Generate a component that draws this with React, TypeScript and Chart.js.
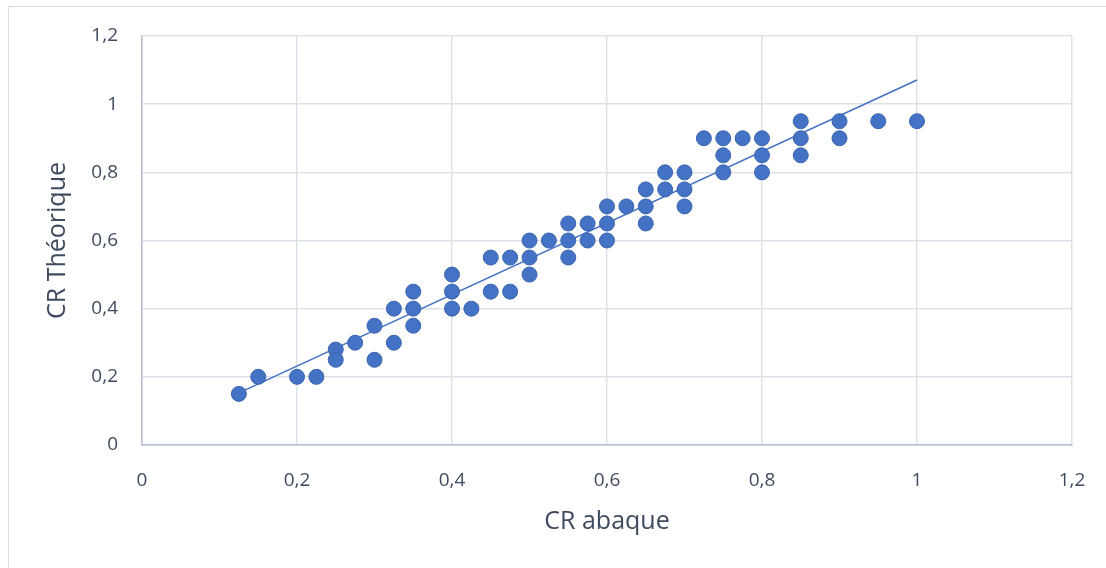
import React, { useEffect, useRef } from "react";
import { Chart, registerables } from "chart.js";

Chart.register(...registerables);

const xTitle = "CR abaque";
const yTitle = "CR Théorique";

const abaque = [
  0.125, 0.15, 0.2, 0.225, 0.25, 0.25, 0.275, 0.3, 0.3, 0.325, 0.325,
  0.35, 0.35, 0.35, 0.4, 0.4, 0.4, 0.425, 0.45, 0.45, 0.475, 0.475,
  0.5, 0.5, 0.5, 0.525, 0.55, 0.55, 0.55, 0.575, 0.575, 0.6, 0.6, 0.6,
  0.625, 0.65, 0.65, 0.65, 0.675, 0.675, 0.7, 0.7, 0.7, 0.725, 0.75,
  0.75, 0.75, 0.775, 0.8, 0.8, 0.8, 0.85, 0.85, 0.85, 0.9, 0.9, 0.95, 1.0,
];
const theorique = [
  0.15, 0.2, 0.2, 0.2, 0.28, 0.25, 0.3, 0.35, 0.25, 0.4, 0.3,
  0.45, 0.4, 0.35, 0.5, 0.45, 0.4, 0.4, 0.55, 0.45, 0.55, 0.45,
  0.6, 0.55, 0.5, 0.6, 0.65, 0.6, 0.55, 0.65, 0.6, 0.7, 0.65, 0.6,
  0.7, 0.75, 0.7, 0.65, 0.8, 0.75, 0.8, 0.75, 0.7, 0.9, 0.9,
  0.85, 0.8, 0.9, 0.9, 0.85, 0.8, 0.95, 0.9, 0.85, 0.95, 0.9, 0.95, 0.95,
];
const trendX = [0.125, 1.0];
const trendY = [0.153, 1.071];

const axisMin = 0;
const axisMax = 1.2;
const axisStep = 0.2;

const BLUE = "#4472C4";
const TEXT = "#3E4B5E";
const GRID = "#DDE2E9";
const AXIS = "#B4BFCF";
const FONT = "'Open Sans', sans-serif";

const fmt = (v: number | string) => {
  const n = Math.round(Number(v) * 10) / 10;
  return String(n).replace(".", ",");
};

export default function App() {
  const ref = useRef<HTMLCanvasElement | null>(null);

  useEffect(() => {
    if (!ref.current) return;
    const chart = new Chart(ref.current, {
      type: "scatter",
      data: {
        datasets: [
          {
            type: "scatter",
            label: "points",
            data: abaque.map((x, i) => ({ x, y: theorique[i] })),
            backgroundColor: BLUE,
            borderColor: "#3A64B0",
            borderWidth: 1,
            pointRadius: 7.5,
            order: 1,
          },
          {
            type: "line",
            label: "trend",
            data: trendX.map((x, i) => ({ x, y: trendY[i] })),
            borderColor: BLUE,
            borderWidth: 1.5,
            pointRadius: 0,
            fill: false,
            order: 2,
          } as any,
        ],
      },
      options: {
        animation: false,
        responsive: false,
        maintainAspectRatio: false,
        layout: { padding: { top: 36, right: 34, left: 0, bottom: 0 } },
        plugins: {
          legend: { display: false },
          tooltip: { enabled: false },
        },
        scales: {
          x: {
            type: "linear",
            min: axisMin,
            max: axisMax,
            afterFit: (s: any) => {
              s.height = 123;
              s.paddingLeft = 0;
              s.paddingRight = 0;
            },
            ticks: {
              stepSize: axisStep,
              callback: (v: any) => fmt(v),
              color: TEXT,
              font: { family: FONT, size: 19 },
              padding: 24,
              maxRotation: 0,
            },
            grid: { color: GRID, lineWidth: 1.5, drawTicks: false },
            border: { color: AXIS, width: 1.5 },
            title: {
              display: true,
              text: xTitle,
              color: TEXT,
              font: { family: FONT, size: 25 },
              padding: { top: 0, bottom: 31 },
            },
          },
          y: {
            type: "linear",
            min: axisMin,
            max: axisMax,
            afterFit: (s: any) => {
              s.width = 142;
              s.paddingTop = 0;
              s.paddingBottom = 0;
            },
            ticks: {
              stepSize: axisStep,
              callback: (v: any) => fmt(v),
              color: TEXT,
              font: { family: FONT, size: 19 },
              padding: 24,
            },
            grid: { color: GRID, lineWidth: 1.5, drawTicks: false },
            border: { color: AXIS, width: 1.5 },
            title: {
              display: true,
              text: yTitle,
              color: TEXT,
              font: { family: FONT, size: 25 },
              padding: { top: 43, bottom: 0 },
            },
          },
        },
      },
    });
    return () => chart.destroy();
  }, []);

  return (
    <div
      style={{
        position: "fixed",
        left: 0,
        top: 0,
        width: 1106,
        height: 568,
        overflow: "hidden",
        background: "#fff",
      }}
    >
      <div
        style={{
          position: "absolute",
          left: 8,
          top: 6,
          width: 1200,
          height: 700,
          borderLeft: "1.5px solid #DCE0E6",
          borderTop: "1.5px solid #DCE0E6",
        }}
      />
      <canvas
        ref={ref}
        width={1106}
        height={568}
        style={{ position: "absolute", left: 0, top: 0, width: 1106, height: 568 }}
      />
    </div>
  );
}
